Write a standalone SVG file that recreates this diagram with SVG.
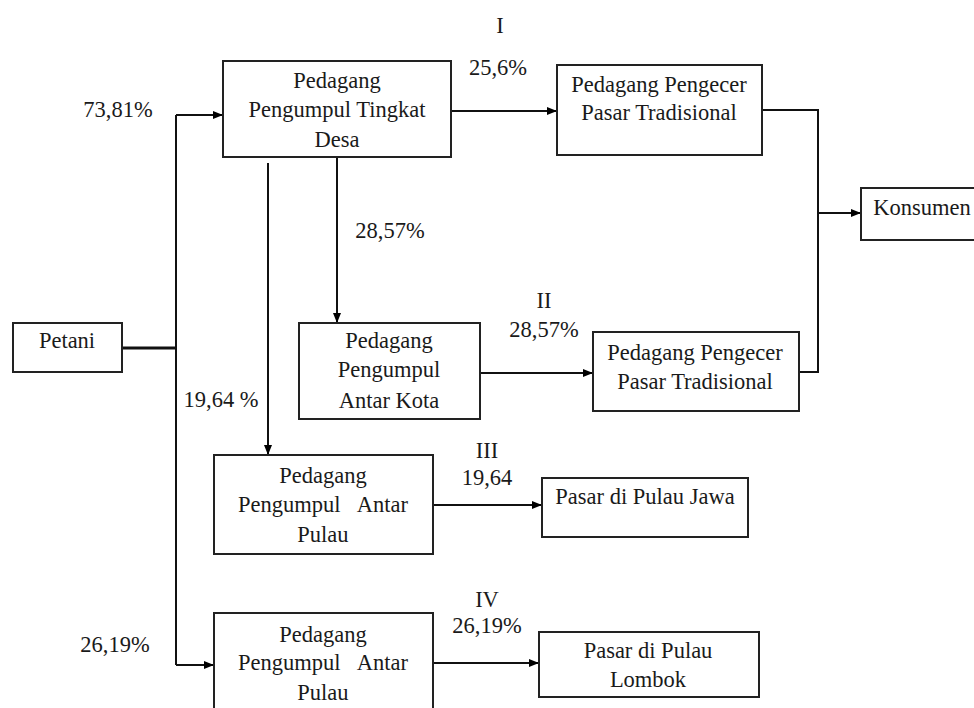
<svg xmlns="http://www.w3.org/2000/svg" width="974" height="708" viewBox="0 0 974 708">
<defs>
<marker id="arr" viewBox="0 0 10 8" refX="10" refY="4" markerWidth="10" markerHeight="8" markerUnits="userSpaceOnUse" orient="auto">
<path d="M0,0 L10,4 L0,8 Z" fill="#000"/>
</marker>
<style>
text{font-size:22.5px;fill:#1a1a1a;text-anchor:middle}
.box{fill:#fff;stroke:#222;stroke-width:2}
.ln{fill:none;stroke:#111;stroke-width:2}
.ar{fill:none;stroke:#111;stroke-width:2;marker-end:url(#arr)}
</style>
</defs>
<rect width="974" height="708" fill="#fff"/>
<g id="connectors">
<path class="ln" d="M122,348 H176" style="stroke-width:3"/>
<path class="ln" d="M176,115 V665"/>
<path class="ar" d="M176,115 H223"/>
<path class="ar" d="M176,665 H214"/>
<path class="ar" d="M451,111 H557"/>
<path class="ln" d="M762,110 H818 V372 H799"/>
<path class="ar" d="M818,213 H861"/>
<path class="ar" d="M337,157 V323"/>
<path class="ar" d="M268,163 V455"/>
<path class="ar" d="M480,373 H593"/>
<path class="ar" d="M433,505 H542"/>
<path class="ar" d="M433,663 H539"/>
</g>
<g font-family="Liberation Serif, DejaVu Serif, serif">
<g id="labels">
<text x="500" y="33">I</text>
<text x="498" y="75">25,6%</text>
<text x="118" y="117">73,81%</text>
<text x="390" y="238">28,57%</text>
<text x="221" y="407">19,64 %</text>
<text x="544" y="308">II</text>
<text x="544" y="337">28,57%</text>
<text x="487" y="458">III</text>
<text x="487" y="485">19,64</text>
<text x="487" y="607">IV</text>
<text x="487" y="633">26,19%</text>
<text x="115" y="652">26,19%</text>
</g>
<g id="petani">
<rect class="box" x="13" y="323" width="109" height="49"/>
<text x="67" y="348">Petani</text>
</g>
<g id="pengumpul-desa">
<rect class="box" x="223" y="61" width="228" height="96"/>
<text x="337" y="88">Pedagang</text>
<text x="337" y="117">Pengumpul Tingkat</text>
<text x="337" y="147">Desa</text>
</g>
<g id="pengecer-1">
<rect class="box" x="557" y="65" width="205" height="90"/>
<text x="659" y="92">Pedagang Pengecer</text>
<text x="659" y="120">Pasar Tradisional</text>
</g>
<g id="konsumen">
<rect class="box" x="861" y="188" width="125" height="52"/>
<text x="922" y="215">Konsumen</text>
</g>
<g id="pengumpul-antar-kota">
<rect class="box" x="299" y="323" width="181" height="96"/>
<text x="389" y="348">Pedagang</text>
<text x="389" y="377">Pengumpul</text>
<text x="389" y="408">Antar Kota</text>
</g>
<g id="pengecer-2">
<rect class="box" x="593" y="332" width="206" height="79"/>
<text x="695" y="360">Pedagang Pengecer</text>
<text x="695" y="389">Pasar Tradisional</text>
</g>
<g id="antar-pulau-1">
<rect class="box" x="214" y="455" width="219" height="99"/>
<text x="323" y="483">Pedagang</text>
<text x="323" y="512" style="word-spacing:12px">Pengumpul Antar</text>
<text x="323" y="542">Pulau</text>
</g>
<g id="pasar-jawa">
<rect class="box" x="542" y="478" width="206" height="59"/>
<text x="645" y="504">Pasar di Pulau Jawa</text>
</g>
<g id="antar-pulau-2">
<rect class="box" x="214" y="613" width="219" height="110"/>
<text x="323" y="642">Pedagang</text>
<text x="323" y="670" style="word-spacing:12px">Pengumpul Antar</text>
<text x="323" y="700">Pulau</text>
</g>
<g id="pasar-lombok">
<rect class="box" x="539" y="632" width="220" height="65"/>
<text x="648" y="658">Pasar di Pulau</text>
<text x="648" y="687">Lombok</text>
</g>
</g>
</svg>
